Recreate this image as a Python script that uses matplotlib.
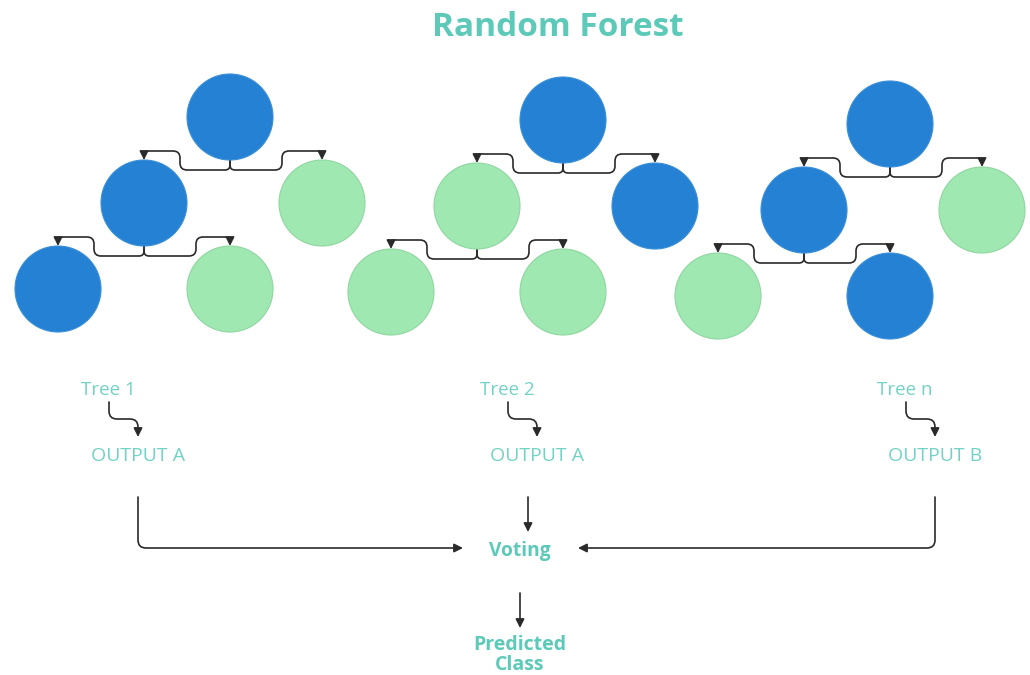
import matplotlib.pyplot as plt
from matplotlib.patches import Circle, FancyArrowPatch
from matplotlib.path import Path

plt.rcParams['font.family'] = ['Open Sans', 'DejaVu Sans']

# tree layout: root centre of each tree, node colours per tree
tree_names = ['Tree 1', 'Tree 2', 'Tree n']
tree_outputs = ['OUTPUT A', 'OUTPUT A', 'OUTPUT B']
root_x = [230, 563, 890]
root_y = [117, 120, 124]
# colours: root, left, right, left-left, left-right  (B = blue, G = green)
node_kinds = [
    ['B', 'B', 'G', 'B', 'G'],
    ['B', 'G', 'B', 'G', 'G'],
    ['B', 'B', 'G', 'G', 'B'],
]
label_x = [109, 508, 906]
output_x = [138, 537, 935]

BLUE = '#2581D4'
GREEN = '#A0E8B2'
TEAL = '#5DC9B8'
TEAL_LIGHT = '#72D3C4'
LINE = '#2a2a2a'
R = 43
DY = 86


def rounded(pts, r=7):
    verts = [pts[0]]
    codes = [Path.MOVETO]
    for i in range(1, len(pts) - 1):
        (x0, y0), (x1, y1), (x2, y2) = pts[i - 1], pts[i], pts[i + 1]
        d1 = ((x1 - x0) ** 2 + (y1 - y0) ** 2) ** 0.5
        d2 = ((x2 - x1) ** 2 + (y2 - y1) ** 2) ** 0.5
        rr = min(r, d1 / 2, d2 / 2)
        a = (x1 - (x1 - x0) * rr / d1, y1 - (y1 - y0) * rr / d1)
        b = (x1 + (x2 - x1) * rr / d2, y1 + (y2 - y1) * rr / d2)
        verts += [a, (x1, y1), b]
        codes += [Path.LINETO, Path.CURVE3, Path.CURVE3]
    verts.append(pts[-1])
    codes.append(Path.LINETO)
    return Path(verts, codes)


def connector(ax, pts, arrow=True, r=7):
    style = '-|>' if arrow else '-'
    ax.add_patch(FancyArrowPatch(path=rounded(pts, r), arrowstyle=style,
                                 mutation_scale=13, color=LINE, lw=1.2,
                                 shrinkA=0, shrinkB=0))


def branch(ax, px, py, cx, cy, bend):
    top = py + R
    low = top + 10
    high = cy - R - 9
    connector(ax, [(px, top), (px, low), (px + bend, low), (px + bend, high),
                   (cx, high), (cx, cy - R)])


fig = plt.figure(figsize=(10.3, 6.75), dpi=100)
ax = fig.add_axes([0, 0, 1, 1])
ax.set_xlim(0, 1030)
ax.set_ylim(675, 0)
ax.axis('off')

for t in range(3):
    rx, ry = root_x[t], root_y[t]
    lx, rxx = rx - 86, rx + 92
    cy = ry + DY
    gy = cy + DY
    centres = [(rx, ry), (lx, cy), (rxx, cy), (lx - 86, gy), (lx + 86, gy)]
    branch(ax, rx, ry, lx, cy, -50)
    branch(ax, rx, ry, rxx, cy, 52)
    branch(ax, lx, cy, lx - 86, gy, -50)
    branch(ax, lx, cy, lx + 86, gy, 52)
    for (x, y), k in zip(centres, node_kinds[t]):
        fc = BLUE if k == 'B' else GREEN
        ec = '#3a8fd6' if k == 'B' else '#8fd6a0'
        ax.add_patch(Circle((x, y), R, fc=fc, ec=ec, lw=0.8, zorder=3))

    ax.text(label_x[t] - 1, 390, tree_names[t], ha='center', va='center',
            fontsize=13.5, color=TEAL_LIGHT)
    ax.text(output_x[t], 456, tree_outputs[t], ha='center', va='center',
            fontsize=14, color=TEAL_LIGHT)
    connector(ax, [(label_x[t], 402), (label_x[t], 419), (output_x[t], 419),
                   (output_x[t], 437)], r=8)

ax.text(558, 27, 'Random Forest', ha='center', va='center', fontsize=24,
        fontweight='bold', color=TEAL)

# collecting arrows into the vote
connector(ax, [(output_x[0], 497), (output_x[0], 548), (463, 548)], r=8)
connector(ax, [(528, 497), (528, 532)])
connector(ax, [(output_x[2], 497), (output_x[2], 548), (578, 548)], r=8)
ax.text(520, 551, 'Voting', ha='center', va='center', fontsize=13.8,
        fontweight='bold', color=TEAL)
connector(ax, [(520, 593), (520, 628)])
ax.text(520, 655, 'Predicted\nClass', ha='center', va='center', fontsize=14,
        fontweight='bold', color=TEAL, linespacing=1.0)

fig.savefig('out.png', dpi=100)
